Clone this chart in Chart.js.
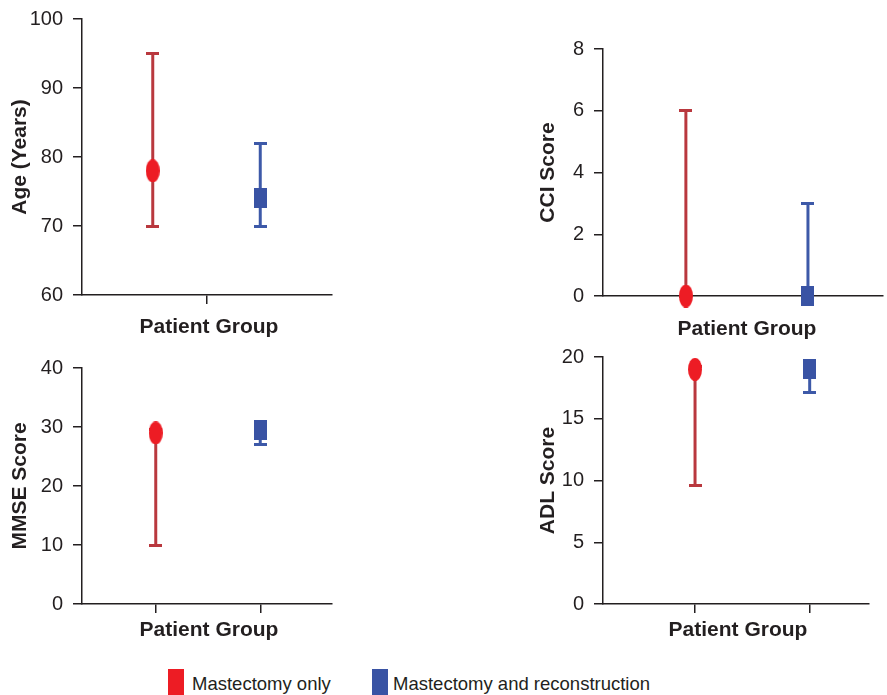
<!DOCTYPE html>
<html>
<head>
<meta charset="utf-8">
<script src="https://cdn.jsdelivr.net/npm/chart.js@4/dist/chart.umd.min.js"></script>
<style>
  body { margin:0; background:#fff; width:887px; height:695px; position:relative; overflow:hidden;
         font-family:"Liberation Sans", Arial, Helvetica, sans-serif; color:#231f20; }
  .panel { position:absolute; }
  .xlab { position:absolute; width:200px; text-align:center; font-weight:bold; font-size:21px; line-height:25px; }
  .legbox { position:absolute; top:669px; width:16px; height:26px; }
  .legtxt { position:absolute; top:673px; font-size:18.5px; line-height:22px; white-space:nowrap; }
</style>
</head>
<body>

<!-- chart areas land 8+yW px from the left, 22px from the top, 24px from the bottom, 5px from the right -->
<div class="panel" style="left:0;top:-3px;width:341px;height:322px"><canvas id="age"></canvas></div>
<div class="panel" style="left:528px;top:27px;width:364px;height:293px"><canvas id="cci"></canvas></div>
<div class="panel" style="left:0;top:346px;width:341px;height:282px"><canvas id="mmse"></canvas></div>
<div class="panel" style="left:528px;top:335px;width:350px;height:293px"><canvas id="adl"></canvas></div>

<div class="xlab" style="left:109px;top:313px">Patient Group</div>
<div class="xlab" style="left:647px;top:315px">Patient Group</div>
<div class="xlab" style="left:109px;top:616px">Patient Group</div>
<div class="xlab" style="left:638px;top:616px">Patient Group</div>

<div class="legbox" style="left:168px;background:#ed1c24"></div>
<div class="legtxt" style="left:192px" id="leg0"></div>
<div class="legbox" style="left:372px;background:#3953a4"></div>
<div class="legtxt" style="left:393px" id="leg1"></div>

<script>
// groups
const groups = ['Mastectomy only', 'Mastectomy and reconstruction'];

// values: median, min, max per group
const ageMedian = [78, 74];
const ageMin = [70, 70];
const ageMax = [95, 82];

const cciMedian = [0, 0];
const cciMin = [0, 0];
const cciMax = [6, 3];

const mmseMedian = [29, 29.5];
const mmseMin = [10, 27];
const mmseMax = [29.5, 30];

const adlMedian = [19, 19];
const adlMin = [9.6, 17.1];
const adlMax = [19.2, 19.5];

// y tick labels
const ageTicks = [60, 70, 80, 90, 100];
const cciTicks = [0, 2, 4, 6, 8];
const mmseTicks = [0, 10, 20, 30, 40];
const adlTicks = [0, 5, 10, 15, 20];

const ink = '#231f20';
const markerColors = ['#ed1c24', '#3953a4'];
const lineColors = ['#b9383e', '#3d59a8'];
Chart.defaults.font.family = '"Liberation Sans", Arial, Helvetica, sans-serif';

document.getElementById('leg0').textContent = groups[0];
document.getElementById('leg1').textContent = groups[1];

function shape(w, h, color, kind) {
  const c = document.createElement('canvas');
  c.width = w; c.height = h;
  const g = c.getContext('2d');
  g.fillStyle = color;
  if (kind === 'ellipse') {
    g.beginPath();
    g.ellipse(w / 2, h / 2, w / 2, h / 2, 0, 0, Math.PI * 2);
    g.fill();
  } else {
    g.fillRect(0, 0, w, h);
  }
  return c;
}
const markers = [shape(14, 23, markerColors[0], 'ellipse'), shape(13, 20, markerColors[1], 'rect')];
const caps = [shape(13, 3, lineColors[0], 'rect'), shape(13, 3, lineColors[1], 'rect')];

function panel(id, p) {
  const datasets = [];
  groups.forEach((name, g) => {
    const x = p.xs[g];
    datasets.push({ label: name, data: [{x: x, y: p.median[g]}],
      pointStyle: markers[g], pointRadius: 8, order: 0, clip: false });
    datasets.push({ label: name + ' caps', data: [{x: x, y: p.min[g]}, {x: x, y: p.max[g]}],
      pointStyle: caps[g], pointRadius: 6, order: 1, clip: false });
    datasets.push({ label: name + ' range', data: [{x: x, y: p.min[g]}, {x: x, y: p.max[g]}],
      showLine: true, borderColor: lineColors[g], borderWidth: 3, pointRadius: 0,
      order: 2, clip: false });
  });

  new Chart(document.getElementById(id), {
    type: 'scatter',
    data: { datasets },
    options: {
      responsive: true,
      maintainAspectRatio: false,
      animation: false,
      events: [],
      layout: { padding: { left: 8, top: 0, right: 0, bottom: 0 } },
      plugins: { legend: { display: false }, tooltip: { enabled: false } },
      scales: {
        x: {
          type: 'linear', min: 0, max: 1,
          afterBuildTicks: s => { s.ticks = p.xTicks.map(v => ({ value: v })); },
          afterFit: s => { s.height = 24; },
          ticks: { display: false },
          grid: { drawOnChartArea: false, drawTicks: true, tickLength: 9, color: ink, lineWidth: 1.5 },
          border: { color: ink, width: 1.5 }
        },
        y: {
          min: p.ticks[0], max: p.ticks[p.ticks.length - 1],
          afterBuildTicks: s => { s.ticks = p.ticks.map(v => ({ value: v })); },
          afterFit: s => { s.width = p.yW; },
          ticks: { color: ink, padding: 10, font: { size: 20 } },
          grid: { drawOnChartArea: false, drawTicks: true, tickLength: 9, color: ink, lineWidth: 1.5 },
          border: { color: ink, width: 1.5 },
          title: { display: true, text: p.title, color: ink, padding: 0,
                   font: { size: 21, weight: 'bold' } }
        }
      }
    }
  });
}

panel('age', { median: ageMedian, min: ageMin, max: ageMax, ticks: ageTicks, title: 'Age (Years)',
  xs: [0.283, 0.713], xTicks: [0.5], yW: 74 });
panel('cci', { median: cciMedian, min: cciMin, max: cciMax, ticks: cciTicks, title: 'CCI Score',
  xs: [0.296, 0.732], xTicks: [], yW: 67 });
panel('mmse', { median: mmseMedian, min: mmseMin, max: mmseMax, ticks: mmseTicks, title: 'MMSE Score',
  xs: [0.295, 0.713], xTicks: [0.295, 0.713], yW: 74 });
panel('adl', { median: adlMedian, min: adlMin, max: adlMax, ticks: adlTicks, title: 'ADL Score',
  xs: [0.346, 0.777], xTicks: [0.346, 0.777], yW: 67 });
</script>
</body>
</html>
